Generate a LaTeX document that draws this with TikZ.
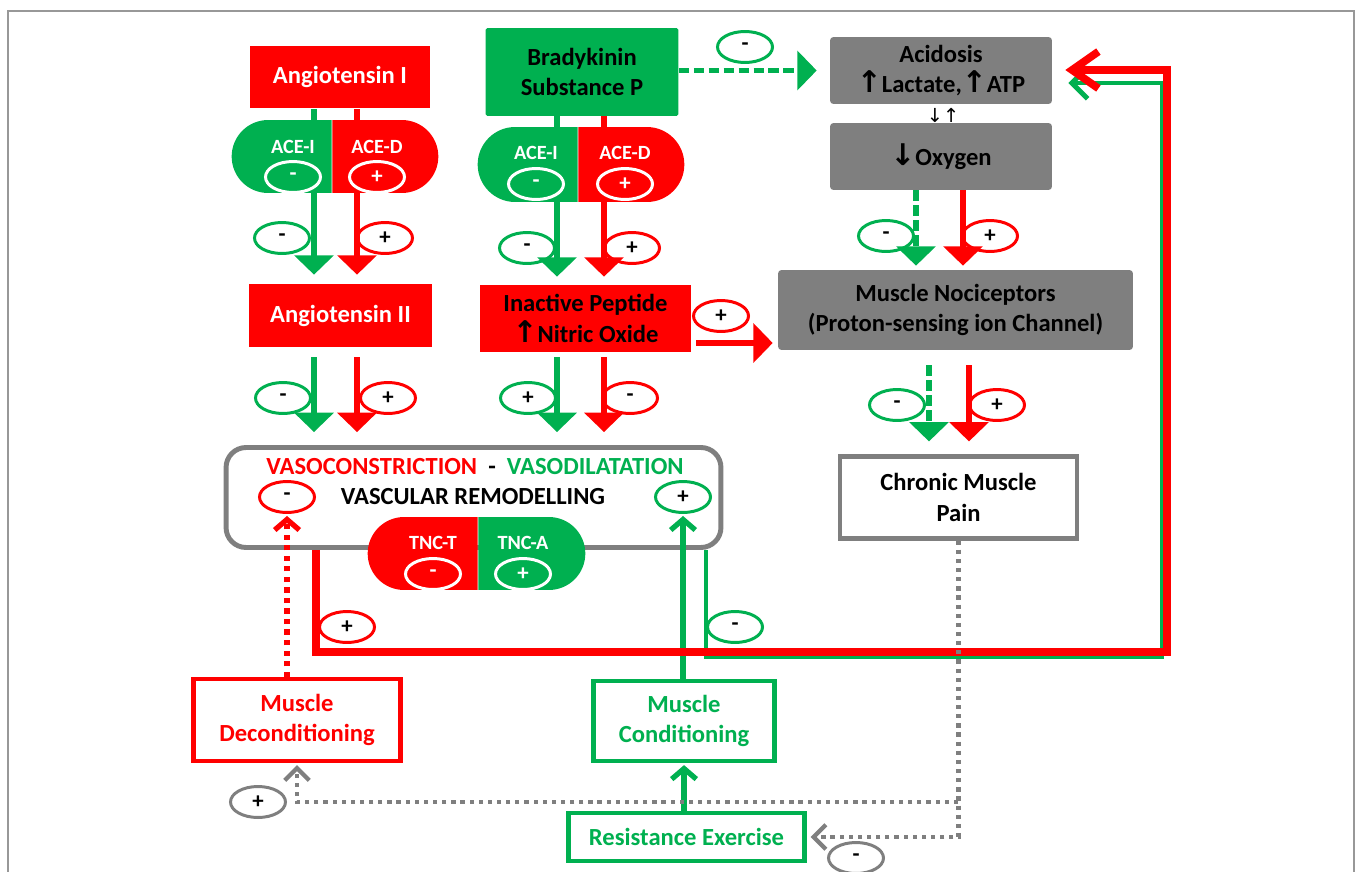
\documentclass[tikz,border=0pt]{standalone}
\usepackage{fontspec}
\setmainfont{Carlito}
\newfontfamily\arrowfont{DejaVu Sans}
\usetikzlibrary{arrows.meta, shapes.geometric, shapes.misc, positioning}
\definecolor{kred}{RGB}{255,0,0}
\definecolor{kgreen}{RGB}{0,176,80}
\definecolor{kgray}{RGB}{127,127,127}
\newcommand{\kup}{{\arrowfont\fontsize{17}{17}\selectfont\char"2191}}
\newcommand{\kdown}{{\arrowfont\fontsize{17}{17}\selectfont\char"2193}}
\tikzset{
  box/.style={align=center, inner sep=0pt, font=\bfseries\fontsize{14}{17.5}\selectfont},
  kredbox/.style={box, fill=kred, text=white},
  kgreenbox/.style={box, fill=kgreen, rounded corners=1pt},
  kgraybox/.style={box, fill=kgray, rounded corners=2pt},
  kframe/.style={box, draw=#1, line width=2.4pt, text=#1, fill=white},
  halfl/.style={rounded rectangle, rounded rectangle right arc=none, inner sep=0pt, fill=#1},
  halfr/.style={rounded rectangle, rounded rectangle left arc=none, inner sep=0pt, fill=#1},
  pilltext/.style={font=\bfseries\fontsize{11.5}{12}\selectfont, text=white, inner sep=0pt},
  sgn/.style={ellipse, draw=#1, line width=1.7pt, fill=white, minimum width=1.1cm, minimum height=0.62cm, inner sep=0pt, font=\bfseries\fontsize{13}{13}\selectfont},
  wsgn/.style={ellipse, draw=white, line width=1.7pt, minimum width=1.1cm, minimum height=0.62cm, inner sep=0pt, text=white, font=\bfseries\fontsize{13}{13}\selectfont},
  stub/.style={draw=#1, line width=3.4pt},
  flow/.style={draw=#1, line width=3.4pt, -{Triangle[width=22pt,length=11pt]}},
  dflow/.style={flow=#1, dash pattern=on 6pt off 2.5pt},
  back/.style={draw=#1, -{Straight Barb[length=9pt,width=18pt]}},
  upflow/.style={draw=#1, line width=3pt, -{Straight Barb[length=6pt,width=14pt]}},
  gdot/.style={draw=kgray, line width=2.4pt, dash pattern=on 2.4pt off 2.8pt, -{Straight Barb[length=7pt,width=14pt]}},
}
\begin{document}
\begin{tikzpicture}[x=0.02cm, y=-0.02cm]
\useasboundingbox (0,0) rectangle (1356,872);
\draw[kgray!80, line width=0.7pt] (8,11) rectangle (1354,890);

\coordinate (c1g) at (314,0); \coordinate (c1r) at (357,0);
\coordinate (c2g) at (557,0); \coordinate (c2r) at (604,0);
\coordinate (c3g) at (916,0); \coordinate (c3r) at (963,0);
\coordinate (c4g) at (929,0); \coordinate (c4r) at (969,0);
\coordinate (pn) at (0,343);
\coordinate (rb) at (316,652); \coordinate (rr) at (1167,70);
\coordinate (gb) at (706,657); \coordinate (gr) at (1162,83);
\coordinate (gsplit) at (958,802);

\node[kredbox, minimum width=3.6cm, minimum height=1.26cm] (angI) at (340,77) {Angiotensin I};
\node[kgreenbox, minimum width=3.86cm, minimum height=1.76cm] (brady) at (582,72) {Bradykinin\\Substance P};
\node[kgraybox, minimum width=4.44cm, minimum height=1.34cm] (acid) at (941,70.5) {Acidosis\\\kup Lactate,\kup ATP};
\node[kgraybox, minimum width=4.44cm, minimum height=1.34cm] (oxy) at (941,156.5) {\kdown Oxygen};
\node[inner sep=0pt, font=\arrowfont\fontsize{11}{11}\selectfont] (swap) at (943,115) {\char"2193\char"2191};

\node[halfl=kgreen, anchor=east, minimum width=2cm, minimum height=1.46cm] (aceIa) at (332,156.5) {};
\node[halfr=kred, anchor=west, minimum width=2.12cm, minimum height=1.46cm] (aceDa) at (aceIa.east) {};
\node[pilltext] (aceIat) at (293,147) {ACE-I};
\node[pilltext] (aceDat) at (377,147) {ACE-D};
\node[wsgn] (aceIas) at (293,177) {-};
\node[wsgn] (aceDas) at (377,177) {+};

\node[halfl=kgreen, anchor=east, minimum width=2cm, minimum height=1.5cm] (aceIb) at (578,164.5) {};
\node[halfr=kred, anchor=west, minimum width=2.12cm, minimum height=1.5cm] (aceDb) at (aceIb.east) {};
\node[pilltext] (aceIbt) at (536,153) {ACE-I};
\node[pilltext] (aceDbt) at (625,153) {ACE-D};
\node[wsgn] (aceIbs) at (536,184) {-};
\node[wsgn] (aceDbs) at (625,184) {+};

\node[kredbox, minimum width=3.66cm, minimum height=1.26cm] (angII) at (340.5,315.5) {Angiotensin II};
\node[kredbox, text=black, minimum width=4.22cm, minimum height=1.34cm] (pept) at (585.5,318.5) {Inactive Peptide\\\kup Nitric Oxide};
\node[kgraybox, minimum width=7.1cm, minimum height=1.6cm] (noci) at (955.5,310) {Muscle Nociceptors\\(Proton-sensing ion Channel)};

\node[draw=kgray, line width=2.8pt, rounded corners=0.4cm, minimum width=9.9cm, minimum height=2cm] (vasc) at (473.5,497.5) {};
\node[box] (vtitle) at (475,467) {\textcolor{kred}{VASOCONSTRICTION}\ \ -\ \ \textcolor{kgreen}{VASODILATATION}};
\node[box] (vremod) at (473,497) {VASCULAR REMODELLING};
\node[halfl=kred, anchor=east, minimum width=2.2cm, minimum height=1.46cm] (tncT) at (478,553.5) {};
\node[halfr=kgreen, anchor=west, minimum width=2.14cm, minimum height=1.46cm] (tncA) at (tncT.east) {};
\node[pilltext] (tncTt) at (433,543) {TNC-T};
\node[pilltext] (tncAt) at (523,543) {TNC-A};
\node[wsgn] (tncTs) at (433,574) {-};
\node[wsgn] (tncAs) at (523,574) {+};

\node[kframe=kgray, text=black, minimum width=4.74cm, minimum height=1.64cm] (pain) at (958.5,497.5) {Chronic Muscle\\Pain};
\node[kframe=kred, minimum width=4.14cm, minimum height=1.64cm] (decond) at (297,720) {Muscle\\Deconditioning};
\node[kframe=kgreen, minimum width=3.62cm, minimum height=1.6cm] (cond) at (684,721) {Muscle\\Conditioning};
\node[kframe=kgreen, minimum width=4.72cm, minimum height=0.96cm] (resist) at (686.5,837) {Resistance Exercise};

\node[sgn=kgreen] (s1) at (282,238) {-};
\node[sgn=kred] (s2) at (385,238) {+};
\node[sgn=kgreen] (s3) at (527,248) {-};
\node[sgn=kred] (s4) at (632,248) {+};
\node[sgn=kgreen] (s5) at (745,47) {-};
\node[sgn=kgreen] (s6) at (886,236) {-};
\node[sgn=kred] (s7) at (990,236) {+};
\node[sgn=kred] (s8) at (721,316) {+};
\node[sgn=kgreen] (s9) at (283,398) {-};
\node[sgn=kred] (s10) at (388,398) {+};
\node[sgn=kgreen] (s11) at (528,398) {+};
\node[sgn=kred] (s12) at (630,398) {-};
\node[sgn=kgreen] (s13) at (897,405) {-};
\node[sgn=kred] (s14) at (997,405) {+};
\node[sgn=kred] (s15) at (287,497) {-};
\node[sgn=kgreen] (s16) at (683,497) {+};
\node[sgn=kred] (s17) at (347,627) {+};
\node[sgn=kgreen] (s18) at (735,627) {-};
\node[sgn=kgray] (s19) at (258,802) {+};
\node[sgn=kgray] (s20) at (856,858) {-};

\draw[stub=kgreen] (angI.south -| c1g) -- (aceIa.north -| c1g);
\draw[stub=kred] (angI.south -| c1r) -- (aceDa.north -| c1r);
\draw[flow=kgreen, shorten >=0.18cm] (aceIa.south -| c1g) -- (angII.north -| c1g);
\draw[flow=kred, shorten >=0.18cm] (aceDa.south -| c1r) -- (angII.north -| c1r);
\draw[stub=kgreen] (brady.south -| c2g) -- (aceIb.north -| c2g);
\draw[stub=kred] (brady.south -| c2r) -- (aceDb.north -| c2r);
\draw[flow=kgreen, shorten >=0.16cm] (aceIb.south -| c2g) -- (pept.north -| c2g);
\draw[flow=kred, shorten >=0.16cm] (aceDb.south -| c2r) -- (pept.north -| c2r);
\draw[dflow=kgreen, shorten >=0.26cm] (brady.east |- acid.west) -- (acid.west);
\draw[dflow=kgreen, shorten >=0.08cm] (oxy.south -| c3g) -- (noci.north -| c3g);
\draw[flow=kred, shorten >=0.08cm] (oxy.south -| c3r) -- (noci.north -| c3r);
\draw[flow=kred, shorten <=0.1cm, shorten >=0.1cm] (pept.east |- pn) -- (noci.west |- pn);

\draw[flow=kgreen, shorten <=0.2cm, shorten >=0.26cm] (angII.south -| c1g) -- (vasc.north -| c1g);
\draw[flow=kred, shorten <=0.2cm, shorten >=0.26cm] (angII.south -| c1r) -- (vasc.north -| c1r);
\draw[flow=kgreen, shorten <=0.1cm, shorten >=0.26cm] (pept.south -| c2g) -- (vasc.north -| c2g);
\draw[flow=kred, shorten <=0.1cm, shorten >=0.26cm] (pept.south -| c2r) -- (vasc.north -| c2r);
\draw[dflow=kgreen, shorten <=0.3cm, shorten >=0.26cm] (noci.south -| c4g) -- (pain.north -| c4g);
\draw[flow=kred, shorten <=0.3cm, shorten >=0.26cm] (noci.south -| c4r) -- (pain.north -| c4r);

\draw[upflow=kgreen, shorten >=0.04cm] (cond.south |- resist.north) -- (cond.south);
\draw[upflow=kgreen, shorten >=0.04cm] (s16.south |- cond.north) -- (s16.south);
\draw[upflow=kred, dash pattern=on 3pt off 3pt, shorten >=0.04cm] (s15.south |- decond.north) -- (s15.south);

\draw[back=kgreen, line width=2.8pt, shorten >=0.32cm] (vasc.south -| gb) -- (gb) -- (gb -| gr) -- (gr) -- (acid.east |- gr);
\draw[back=kred, line width=4.4pt, shorten >=0.26cm, -{Straight Barb[length=15pt,width=21pt]}] (vasc.south -| rb) -- (rb) -- (rb -| rr) -- (rr) -- (acid.east |- rr);

\draw[gdot, shorten >=0.08cm] (pain.south) -- (pain.south |- resist.east) -- (resist.east);
\draw[gdot, shorten >=0.04cm] (gsplit) -- (gsplit -| decond.south) -- (decond.south);
\end{tikzpicture}
\end{document}
